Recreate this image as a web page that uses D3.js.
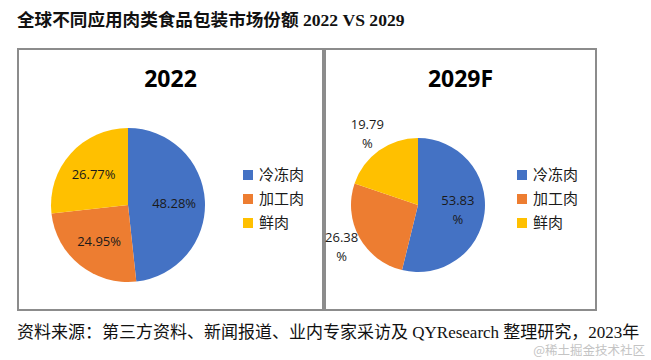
<!DOCTYPE html>
<html>
<head>
<meta charset="utf-8">
<script src="https://cdn.jsdelivr.net/npm/d3@7"></script>
<style>
  body { margin: 0; background: #fff; }
  svg { display: block; }
</style>
</head>
<body>
<svg id="chart"></svg>
<script>
// 数据
var categories = ["冷冻肉", "加工肉", "鲜肉"];
var years = ["2022", "2029F"];
var share2022 = [48.28, 24.95, 26.77];
var share2029 = [53.83, 26.38, 19.79];
var colors = ["#4472C4", "#ED7D31", "#FFC000"];

var width = 651, height = 360;
var svg = d3.select("#chart").attr("width", width).attr("height", height);

// 标题
svg.append("text")
    .attr("x", 17).attr("y", 26)
    .attr("font-family", "'Liberation Serif', 'Noto Sans CJK SC', serif")
    .attr("font-weight", "bold")
    .attr("font-size", 17.6)
    .attr("fill", "#111")
    .text("全球不同应用肉类食品包装市场份额 2022 VS 2029");

// 两个面板的布局
var panels = [
    { year: years[0], values: share2022, x0: 18, x1: 323, cx: 128, r: 77, legendX: 243, wrap: false, outside: [] },
    { year: years[1], values: share2029, x0: 325, x1: 596, cx: 418, r: 67, legendX: 517, wrap: true, outside: [1, 2] }
];
var boxTop = 49, boxBottom = 310, cy = 205;

var pie = d3.pie().sort(null).value(d => d);

panels.forEach(function (p) {
    var g = svg.append("g");

    g.append("rect")
        .attr("x", p.x0).attr("y", boxTop)
        .attr("width", p.x1 - p.x0).attr("height", boxBottom - boxTop)
        .attr("fill", "#fff")
        .attr("stroke", "#8c8c8c")
        .attr("stroke-width", 2);

    g.append("text")
        .attr("x", (p.x0 + p.x1) / 2).attr("y", 87)
        .attr("text-anchor", "middle")
        .attr("font-family", "'Open Sans', sans-serif")
        .attr("font-weight", "bold")
        .attr("font-size", 23)
        .attr("fill", "#000")
        .text(p.year);

    var arc = d3.arc().innerRadius(0).outerRadius(p.r);
    var inArc = d3.arc().innerRadius(p.r * 0.6).outerRadius(p.r * 0.6);
    var outArc = d3.arc().innerRadius(p.r * 1.3).outerRadius(p.r * 1.3);

    var pg = g.append("g").attr("transform", `translate(${p.cx},${cy})`);
    var arcs = pie(p.values);

    pg.selectAll("path")
        .data(arcs)
        .enter().append("path")
        .attr("d", arc)
        .attr("fill", (d, i) => colors[i]);

    // 数据标签
    arcs.forEach(function (d, i) {
        var c = p.outside.indexOf(i) >= 0 ? outArc.centroid(d) : inArc.centroid(d);
        var t = pg.append("text")
            .attr("text-anchor", "middle")
            .attr("font-family", "'Open Sans', sans-serif")
            .attr("font-size", 13)
            .attr("fill", "#1a1a1a");
        if (p.wrap) {
            t.append("tspan").attr("x", c[0]).attr("y", c[1] - 5).text(d.data.toFixed(2));
            t.append("tspan").attr("x", c[0]).attr("y", c[1] + 14).text("%");
        } else {
            t.attr("x", c[0]).attr("y", c[1] + 5).text(d.data.toFixed(2) + "%");
        }
    });

    // 图例
    var legendY = d3.scalePoint().domain(categories).range([175, 223]);
    var lg = g.selectAll(".legend")
        .data(categories)
        .enter().append("g")
        .attr("transform", d => `translate(${p.legendX},${legendY(d)})`);
    lg.append("rect")
        .attr("x", 0).attr("y", -5)
        .attr("width", 10).attr("height", 10)
        .attr("fill", (d, i) => colors[i]);
    lg.append("text")
        .attr("x", 16).attr("y", 5)
        .attr("font-family", "'Noto Sans CJK SC', sans-serif")
        .attr("font-size", 15)
        .attr("fill", "#1a1a1a")
        .text(d => d);
});

// 资料来源
svg.append("text")
    .attr("x", 17).attr("y", 338)
    .attr("font-family", "'Liberation Serif', 'Noto Sans CJK SC', serif")
    .attr("font-size", 17)
    .attr("fill", "#111")
    .text("资料来源：第三方资料、新闻报道、业内专家采访及 QYResearch 整理研究，2023年");

// 水印
svg.append("text")
    .attr("x", 645).attr("y", 355)
    .attr("text-anchor", "end")
    .attr("font-family", "'Noto Sans CJK SC', sans-serif")
    .attr("font-size", 12.5)
    .attr("fill", "#c4c4c4")
    .text("@稀土掘金技术社区");
</script>
</body>
</html>
